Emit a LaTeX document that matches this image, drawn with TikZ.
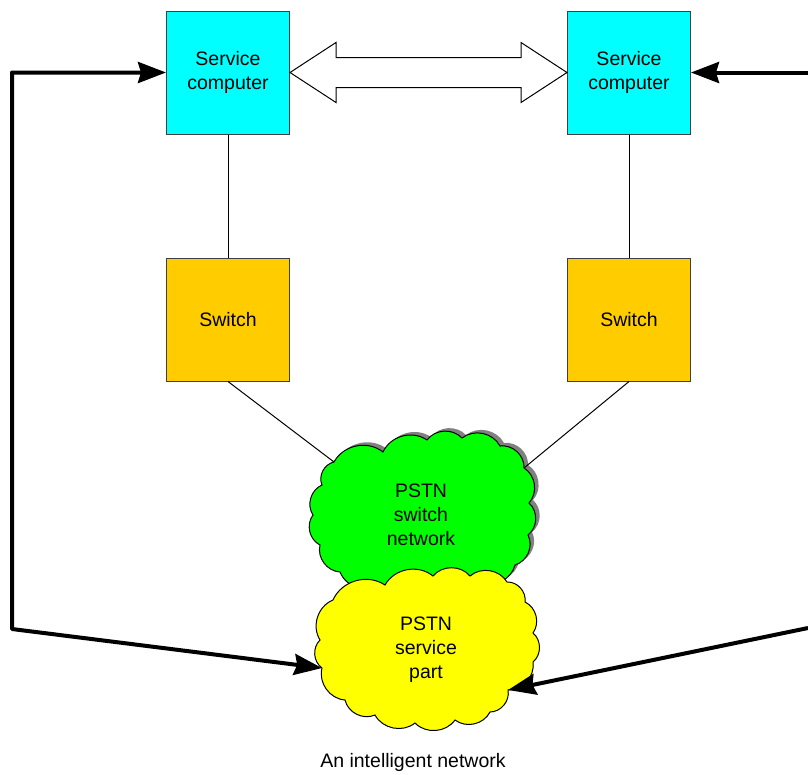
\documentclass[tikz,border=0pt]{standalone}
\usepackage{fontspec}
\setmainfont{Liberation Sans}
\usetikzlibrary{arrows.meta,calc}
\definecolor{svccyan}{RGB}{0,255,255}
\definecolor{swgold}{RGB}{255,204,0}
\definecolor{netgreen}{RGB}{0,255,0}
\definecolor{partyellow}{RGB}{255,255,0}
\tikzset{bigtip/.tip={Stealth[length=28pt,width=21pt,inset=3pt]}}
% puffy outlines of the two PSTN clouds (valley points joined by bulging arcs)
\newcommand\netoutline{(334,462) to (383,452) to (427,440) to (462,438)
  to (500,446) to (524,468) to (529,503) to (528,535) to (515,565)
  to (480,582) to (430,588) to (380,585) to (340,572) to (320,545)
  to (313,515) to (322,485) to cycle}
\newcommand\partoutline{(333,600) to (385,585) to (433,576) to (470,576)
  to (507,582) to (525,602) to (533,633) to (533,662) to (508,690)
  to (490,712) to (455,720) to (415,723) to (375,715) to (345,700)
  to (322,668) to (320,640) to cycle}
\begin{document}
\begin{tikzpicture}[x=1pt,y=-1pt,line width=1pt,
  lbl/.style={align=center,font=\fontsize{19.5}{24}\selectfont},
  box/.style={lbl,draw=black!75,minimum width=123pt,minimum height=123pt,inner sep=0pt},
  puffs/.style={every to/.style={bend left=50}},
  heavy/.style={line width=4pt,line join=round}]
\useasboundingbox (0,0) rectangle (808,774);

% service computers and switches
\node[box,fill=svccyan] (svcL) at (228,72.5) {Service\\computer};
\node[box,fill=svccyan] (svcR) at (629,72.5) {Service\\computer};
\node[box,fill=swgold] (swL) at (228,319.5) {Switch};
\node[box,fill=swgold] (swR) at (629,319.5) {Switch};

% the two PSTN clouds
\begin{scope}[puffs]
  \fill[black!50,shift={(4,-3)}] \netoutline;
  \draw[fill=netgreen] \netoutline;
  \draw[fill=partyellow] \partoutline;
\end{scope}
\node[lbl] (net) at (421,515) {PSTN\\switch\\network};
\node[lbl] (psp) at (426,650) {PSTN\\service\\part};

% attachment points on the cloud outlines
\coordinate (netL) at (334,462);
\coordinate (netR) at (524,468);
\coordinate (pspL) at (322,668);
\coordinate (pspR) at (508,690);

% thin links
\draw (svcL) -- (swL);
\draw (svcR) -- (swR);
\draw (swL.south) -- (netL);
\draw (swR.south) -- (netR);

% block double arrow between the service computers
\draw[fill=white] (svcL.east) -- ++(46,-30) -- ++(0,15)
  -- ($(svcR.west)+(-46,-15)$) -- ++(0,-15) -- (svcR.west)
  -- ++(-46,30) -- ++(0,-15) -- ($(svcL.east)+(46,15)$) -- ++(0,15) -- cycle;

% heavy signalling arrows
\coordinate (cL) at (12,629);
\coordinate (cR) at (808,628);
\coordinate (eR) at (808,72.5);
\draw[heavy,bigtip-bigtip] (svcL.west) -| (cL) -- (pspL);
\draw[heavy,-bigtip] (eR) -- (svcR.east);
\draw[heavy,-bigtip] (cR) -- (pspR);

\node[lbl] (cap) at (413,762) {An intelligent network};
\end{tikzpicture}
\end{document}
